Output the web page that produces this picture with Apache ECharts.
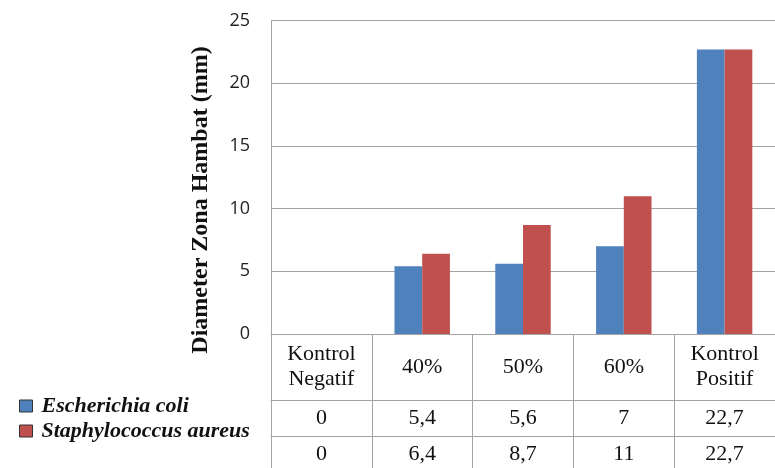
<!DOCTYPE html>
<html>
<head>
<meta charset="utf-8">
<script src="https://cdn.jsdelivr.net/npm/echarts@6/dist/echarts.min.js"></script>
<style>
  html, body { margin: 0; padding: 0; background: #fff; }
  #chart { width: 775px; height: 468px; }
</style>
</head>
<body>
<div id="chart"></div>
<script>
// Inhibition zone diameter (mm) per treatment
const categories = ['Kontrol\nNegatif', '40%', '50%', '60%', 'Kontrol\nPositif'];
const seriesNames = ['Escherichia coli', 'Staphylococcus aureus'];
const ecoli = [0, 5.4, 5.6, 7, 22.7];
const saureus = [0, 6.4, 8.7, 11, 22.7];
const yTicks = { min: 0, max: 25, interval: 5 };
const yTitle = 'Diameter Zona Hambat (mm)';

const serif = '"Liberation Serif", "Times New Roman", serif';
const gridColor = '#a3a3a3';
const fmt = v => String(v).replace('.', ',');

// serif cell text style, used through rich text so the family is applied per fragment
const cell = { fontFamily: serif, fontSize: 22, lineHeight: 25, color: '#111' };
const wrapRich = s => s.split('\n').map(l => '{c|' + l + '}').join('\n');

const chart = echarts.init(document.getElementById('chart'));

// data-table rows drawn as extra category axes stacked under the plot
function tableRow(values, offset) {
  return {
    type: 'category',
    data: categories,
    position: 'bottom',
    offset: offset,
    gridIndex: 0,
    axisLine: { show: true, lineStyle: { color: gridColor, width: 1 } },
    axisTick: { show: false },
    axisLabel: {
      interval: 0,
      margin: 18,
      verticalAlign: 'middle',
      fontFamily: serif,
      fontSize: 22,
      color: '#111',
      rich: { c: cell },
      formatter: (v, i) => wrapRich(fmt(values[i]))
    }
  };
}

chart.setOption({
  animation: false,
  backgroundColor: '#fff',
  grid: { left: 271, top: 20.7, height: 313.3, width: 516 },
  legend: {
    orient: 'vertical',
    left: 14,
    top: 390,
    itemWidth: 13,
    itemHeight: 12,
    itemGap: 3,
    icon: 'rect',
    data: seriesNames,
    formatter: name => '{s|' + name + '}',
    textStyle: {
      fontFamily: serif,
      fontWeight: 'bold',
      fontStyle: 'italic',
      fontSize: 22,
      color: '#111',
      rich: {
        s: { fontFamily: serif, fontWeight: 'bold', fontStyle: 'italic', fontSize: 22, color: '#111', padding: [0, 0, 0, 4] }
      }
    },
    itemStyle: { borderColor: '#333', borderWidth: 1 }
  },
  graphic: [{
    type: 'text',
    x: 201,
    y: 200,
    rotation: Math.PI / 2,
    style: {
      text: yTitle,
      fontFamily: serif,
      fontWeight: 'bold',
      fontSize: 24,
      fill: '#111',
      align: 'center',
      verticalAlign: 'middle'
    }
  }],
  xAxis: [
    {
      type: 'category',
      data: categories,
      position: 'bottom',
      gridIndex: 0,
      axisLine: { show: true, lineStyle: { color: gridColor, width: 1 } },
      axisTick: { show: true, interval: 0, length: 140, lineStyle: { color: gridColor, width: 1 } },
      axisLabel: {
        interval: 0,
        margin: 33,
        verticalAlign: 'middle',
        lineHeight: 25,
        fontFamily: serif,
        fontSize: 22,
        color: '#111',
        rich: { c: cell },
        formatter: v => wrapRich(v)
      }
    },
    tableRow(ecoli, 66),
    tableRow(saureus, 102.7)
  ],
  yAxis: {
    type: 'value',
    min: yTicks.min,
    max: yTicks.max,
    interval: yTicks.interval,
    axisLine: { show: true, lineStyle: { color: gridColor, width: 1 } },
    axisTick: { show: false },
    splitLine: { show: true, lineStyle: { color: gridColor, width: 1 } },
    axisLabel: {
      margin: 21,
      fontFamily: 'Open Sans',
      fontSize: 18,
      color: '#222'
    }
  },
  series: [
    {
      name: seriesNames[0],
      type: 'bar',
      xAxisIndex: 0,
      data: ecoli,
      barGap: '0%',
      barCategoryGap: '45%',
      itemStyle: { color: '#4F81BD' }
    },
    {
      name: seriesNames[1],
      type: 'bar',
      xAxisIndex: 0,
      data: saureus,
      barGap: '0%',
      barCategoryGap: '45%',
      itemStyle: { color: '#C0504D' }
    }
  ]
});
</script>
</body>
</html>
